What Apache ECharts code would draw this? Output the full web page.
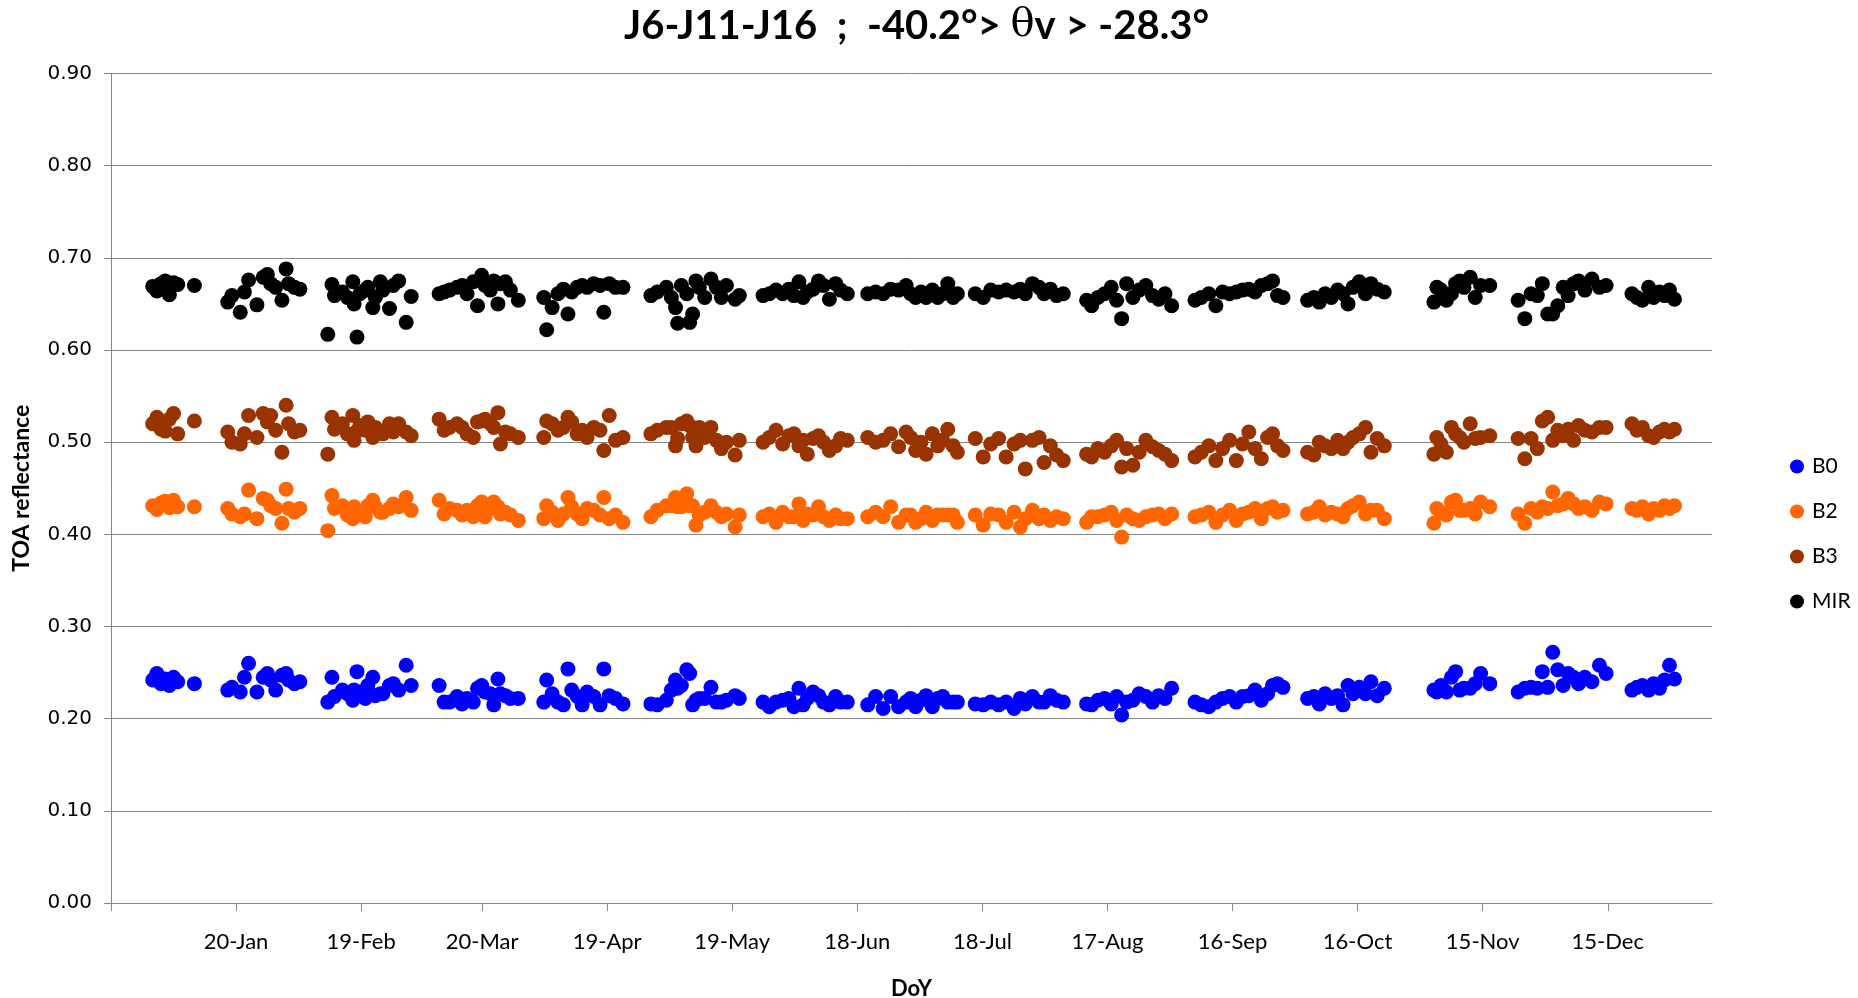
<!DOCTYPE html>
<html>
<head>
<meta charset="utf-8">
<title>TOA reflectance – J6-J11-J16</title>
<script src="https://cdn.jsdelivr.net/npm/echarts@6/dist/echarts.min.js"></script>
<style>
  html, body { margin: 0; padding: 0; background: #ffffff; }
  #chart { width: 1858px; height: 998px; }
</style>
</head>
<body>
<div id="chart"></div>
<script>
// Day of year of each acquisition (one line per overpass window)
const doy = [
  0, 1, 2, 3, 4, 5, 6, 10,
  18, 19, 21, 22, 23, 25, 26.5, 27.5, 28.3, 29.5, 31, 32, 32.6, 34, 35.3,
  42, 43, 43.6, 45.5, 46.7, 48, 48.3, 49, 49.7, 51, 51.6, 52.8, 53.4, 54.6, 55.2, 56.8, 57.7, 59, 60.8, 62,
  68.7, 69.9, 71.2, 73, 74.2, 75.4, 76.9, 77.9, 78.9, 79.7, 81, 81.8, 82.8, 83.4, 84.6, 85.8, 87.7,
  93.8, 94.5, 95.8, 97.2, 98.5, 99.6, 100.5, 101.8, 103, 104.2, 105.8, 107.3, 108.2, 109.5, 111, 112.8,
  119.5, 121, 123.2, 124.4, 125.4, 125.9, 126.8, 128.1, 128.8, 129.5, 130.3, 131.1, 132.4, 133.9, 135.2, 136.4, 137.6, 139.7, 140.7,
  146.4, 147.9, 149.5, 151.1, 152.6, 153.8, 155, 156, 157, 158.4, 159.7, 160.9, 162.3, 163.8, 165, 166.6,
  171.5, 173.4, 175.2, 177, 178.9, 180.7, 181.8, 183, 184.3, 185.5, 187, 188.3, 189.5, 190.7, 192, 193,
  197.3, 199.2, 201, 202.9, 204.7, 206.6, 208.1, 209.3, 211, 212.6, 213.8, 215.3, 216.8, 218.4,
  224, 225.2, 226.7, 228.3, 229.9, 231.2, 232.4, 233.6, 235.1, 236.6, 238.2, 239.8, 241.3, 242.8, 244.4,
  250, 251.5, 253.3, 255, 256.6, 258.3, 259.9, 261.4, 262.9, 264.4, 265.9, 267.4, 268.6, 269.8, 271.1,
  277, 278.5, 279.8, 281.2, 282.7, 284.2, 285.5, 286.7, 287.9, 289.4, 290.9, 292.2, 293.7, 295.4,
  307.3, 308, 309, 310.3, 311.5, 312.5, 313.5, 314.5, 316, 317.2, 318.5, 320.7,
  327.5, 329.1, 330.6, 332.1, 333.3, 334.6, 335.8, 337, 338.3, 339.5, 340.8, 342, 343.5, 345.2, 347, 348.6,
  354.8, 356, 357.3, 358.8, 360, 361.4, 362.6, 363.8, 365
];

// Band B0 TOA reflectance
const b0 = [
  0.242, 0.249, 0.238, 0.243, 0.236, 0.245, 0.240, 0.238,
  0.231, 0.234, 0.229, 0.245, 0.260, 0.229, 0.245, 0.249, 0.242, 0.231, 0.247, 0.249, 0.242, 0.238, 0.240,
  0.218, 0.245, 0.224, 0.231, 0.227, 0.220, 0.231, 0.251, 0.229, 0.222, 0.236, 0.245, 0.225, 0.227, 0.227, 0.236, 0.238, 0.231, 0.258, 0.236,
  0.236, 0.218, 0.218, 0.224, 0.216, 0.222, 0.218, 0.233, 0.236, 0.229, 0.227, 0.215, 0.243, 0.227, 0.225, 0.222, 0.222,
  0.218, 0.242, 0.227, 0.218, 0.215, 0.254, 0.231, 0.224, 0.215, 0.229, 0.224, 0.215, 0.254, 0.225, 0.222, 0.216,
  0.216, 0.215, 0.220, 0.231, 0.242, 0.233, 0.236, 0.253, 0.249, 0.215, 0.220, 0.222, 0.222, 0.234, 0.218, 0.218, 0.220, 0.225, 0.222,
  0.218, 0.213, 0.218, 0.220, 0.222, 0.213, 0.233, 0.215, 0.222, 0.229, 0.225, 0.218, 0.215, 0.224, 0.218, 0.218,
  0.215, 0.224, 0.211, 0.224, 0.213, 0.218, 0.222, 0.213, 0.220, 0.225, 0.213, 0.222, 0.224, 0.218, 0.218, 0.218,
  0.216, 0.215, 0.218, 0.215, 0.218, 0.211, 0.222, 0.216, 0.224, 0.218, 0.218, 0.225, 0.220, 0.218,
  0.216, 0.215, 0.220, 0.222, 0.216, 0.224, 0.204, 0.218, 0.220, 0.227, 0.224, 0.218, 0.225, 0.222, 0.233,
  0.218, 0.215, 0.213, 0.218, 0.222, 0.224, 0.218, 0.224, 0.225, 0.231, 0.220, 0.227, 0.236, 0.238, 0.234,
  0.222, 0.224, 0.216, 0.227, 0.222, 0.225, 0.215, 0.236, 0.227, 0.234, 0.227, 0.240, 0.225, 0.233,
  0.231, 0.229, 0.236, 0.229, 0.245, 0.251, 0.231, 0.233, 0.233, 0.238, 0.249, 0.238,
  0.229, 0.233, 0.234, 0.233, 0.251, 0.234, 0.272, 0.253, 0.236, 0.249, 0.245, 0.238, 0.245, 0.240, 0.258, 0.249,
  0.231, 0.234, 0.236, 0.231, 0.238, 0.233, 0.242, 0.258, 0.243
];

// Band B2 TOA reflectance
const b2 = [
  0.431, 0.427, 0.434, 0.436, 0.429, 0.437, 0.430, 0.430,
  0.428, 0.422, 0.419, 0.422, 0.448, 0.417, 0.439, 0.437, 0.431, 0.428, 0.412, 0.449, 0.428, 0.424, 0.428,
  0.404, 0.442, 0.428, 0.431, 0.421, 0.417, 0.430, 0.425, 0.421, 0.419, 0.431, 0.437, 0.430, 0.424, 0.424, 0.428, 0.433, 0.430, 0.440, 0.426,
  0.437, 0.422, 0.428, 0.426, 0.421, 0.426, 0.419, 0.431, 0.435, 0.419, 0.428, 0.435, 0.430, 0.422, 0.424, 0.421, 0.415,
  0.417, 0.431, 0.424, 0.415, 0.422, 0.440, 0.430, 0.422, 0.417, 0.428, 0.426, 0.421, 0.440, 0.417, 0.421, 0.413,
  0.419, 0.426, 0.431, 0.431, 0.440, 0.430, 0.430, 0.444, 0.431, 0.431, 0.410, 0.421, 0.424, 0.431, 0.424, 0.419, 0.422, 0.408, 0.421,
  0.419, 0.422, 0.413, 0.424, 0.419, 0.419, 0.433, 0.415, 0.422, 0.421, 0.430, 0.419, 0.415, 0.421, 0.417, 0.417,
  0.419, 0.424, 0.419, 0.430, 0.413, 0.421, 0.421, 0.413, 0.417, 0.424, 0.415, 0.421, 0.421, 0.421, 0.421, 0.413,
  0.421, 0.410, 0.422, 0.421, 0.413, 0.424, 0.408, 0.417, 0.426, 0.417, 0.421, 0.415, 0.419, 0.417,
  0.413, 0.419, 0.419, 0.421, 0.424, 0.415, 0.397, 0.421, 0.417, 0.415, 0.419, 0.421, 0.422, 0.417, 0.422,
  0.419, 0.421, 0.424, 0.413, 0.421, 0.426, 0.415, 0.422, 0.424, 0.428, 0.417, 0.428, 0.430, 0.424, 0.426,
  0.422, 0.424, 0.430, 0.421, 0.424, 0.422, 0.419, 0.428, 0.431, 0.435, 0.422, 0.426, 0.426, 0.417,
  0.412, 0.428, 0.424, 0.421, 0.435, 0.437, 0.426, 0.426, 0.428, 0.422, 0.435, 0.430,
  0.422, 0.412, 0.428, 0.424, 0.430, 0.428, 0.446, 0.431, 0.433, 0.439, 0.433, 0.428, 0.430, 0.426, 0.435, 0.433,
  0.428, 0.426, 0.430, 0.422, 0.428, 0.426, 0.431, 0.428, 0.431
];

// Band B3 TOA reflectance
const b3 = [
  0.520, 0.527, 0.514, 0.512, 0.525, 0.531, 0.509, 0.523,
  0.511, 0.500, 0.498, 0.509, 0.529, 0.505, 0.531, 0.522, 0.529, 0.513, 0.489, 0.540, 0.520, 0.511, 0.513,
  0.487, 0.527, 0.514, 0.520, 0.509, 0.529, 0.502, 0.512, 0.518, 0.513, 0.522, 0.505, 0.516, 0.511, 0.509, 0.520, 0.511, 0.520, 0.511, 0.507,
  0.525, 0.513, 0.516, 0.520, 0.516, 0.509, 0.505, 0.522, 0.523, 0.525, 0.520, 0.516, 0.532, 0.498, 0.511, 0.509, 0.505,
  0.505, 0.523, 0.520, 0.513, 0.516, 0.527, 0.522, 0.509, 0.513, 0.505, 0.516, 0.513, 0.491, 0.529, 0.502, 0.505,
  0.509, 0.513, 0.516, 0.516, 0.496, 0.504, 0.520, 0.523, 0.518, 0.505, 0.496, 0.516, 0.505, 0.516, 0.502, 0.493, 0.500, 0.486, 0.502,
  0.500, 0.505, 0.513, 0.498, 0.507, 0.509, 0.496, 0.502, 0.487, 0.504, 0.507, 0.500, 0.491, 0.496, 0.504, 0.502,
  0.505, 0.500, 0.502, 0.509, 0.495, 0.511, 0.505, 0.491, 0.500, 0.487, 0.509, 0.496, 0.502, 0.514, 0.496, 0.489,
  0.504, 0.484, 0.498, 0.504, 0.484, 0.498, 0.502, 0.471, 0.502, 0.505, 0.478, 0.496, 0.486, 0.480,
  0.487, 0.484, 0.493, 0.489, 0.496, 0.502, 0.473, 0.493, 0.475, 0.489, 0.502, 0.495, 0.491, 0.487, 0.480,
  0.484, 0.489, 0.496, 0.480, 0.493, 0.502, 0.480, 0.498, 0.511, 0.493, 0.482, 0.505, 0.509, 0.496, 0.491,
  0.489, 0.486, 0.500, 0.496, 0.493, 0.502, 0.493, 0.500, 0.505, 0.509, 0.516, 0.489, 0.504, 0.496,
  0.487, 0.505, 0.498, 0.489, 0.516, 0.509, 0.505, 0.500, 0.520, 0.504, 0.505, 0.507,
  0.504, 0.482, 0.504, 0.493, 0.523, 0.527, 0.502, 0.513, 0.507, 0.514, 0.502, 0.518, 0.513, 0.511, 0.516, 0.516,
  0.520, 0.513, 0.516, 0.507, 0.505, 0.511, 0.514, 0.511, 0.514
];

// MIR TOA reflectance
const mir = [
  0.669, 0.664, 0.672, 0.675, 0.660, 0.673, 0.671, 0.670,
  0.652, 0.659, 0.641, 0.663, 0.676, 0.649, 0.679, 0.682, 0.672, 0.668, 0.654, 0.688, 0.672, 0.668, 0.666,
  0.617, 0.671, 0.659, 0.663, 0.657, 0.674, 0.650, 0.614, 0.661, 0.665, 0.668, 0.646, 0.657, 0.674, 0.665, 0.645, 0.670, 0.675, 0.630, 0.658,
  0.661, 0.663, 0.665, 0.668, 0.670, 0.661, 0.674, 0.648, 0.681, 0.670, 0.665, 0.675, 0.650, 0.672, 0.674, 0.665, 0.654,
  0.657, 0.622, 0.646, 0.661, 0.666, 0.639, 0.663, 0.668, 0.670, 0.668, 0.672, 0.670, 0.641, 0.672, 0.668, 0.668,
  0.659, 0.663, 0.668, 0.657, 0.646, 0.629, 0.670, 0.661, 0.630, 0.639, 0.675, 0.668, 0.657, 0.677, 0.668, 0.657, 0.670, 0.655, 0.659,
  0.659, 0.661, 0.665, 0.661, 0.666, 0.659, 0.674, 0.657, 0.663, 0.666, 0.675, 0.670, 0.655, 0.672, 0.665, 0.661,
  0.661, 0.663, 0.661, 0.666, 0.665, 0.670, 0.661, 0.657, 0.663, 0.657, 0.665, 0.657, 0.661, 0.672, 0.657, 0.661,
  0.661, 0.657, 0.665, 0.663, 0.665, 0.663, 0.666, 0.661, 0.672, 0.668, 0.661, 0.666, 0.659, 0.661,
  0.654, 0.648, 0.657, 0.661, 0.668, 0.654, 0.634, 0.672, 0.657, 0.665, 0.670, 0.659, 0.655, 0.661, 0.648,
  0.654, 0.657, 0.661, 0.648, 0.663, 0.661, 0.663, 0.665, 0.666, 0.663, 0.670, 0.672, 0.675, 0.659, 0.657,
  0.654, 0.657, 0.652, 0.661, 0.657, 0.665, 0.661, 0.650, 0.668, 0.674, 0.661, 0.672, 0.666, 0.663,
  0.652, 0.668, 0.665, 0.654, 0.661, 0.672, 0.675, 0.668, 0.679, 0.657, 0.670, 0.670,
  0.654, 0.634, 0.661, 0.659, 0.672, 0.639, 0.639, 0.648, 0.668, 0.659, 0.672, 0.675, 0.665, 0.677, 0.668, 0.670,
  0.661, 0.657, 0.654, 0.668, 0.657, 0.663, 0.659, 0.665, 0.655
];

// Date axis: labelled ticks every 30 days, plus the unlabelled tick at the axis start
const dateTickDays = [20, 50, 79, 109, 139, 169, 199, 229, 259, 289, 319, 349];
const dateTickLabels = ['20-Jan', '19-Feb', '20-Mar', '19-Apr', '19-May', '18-Jun',
                        '18-Jul', '17-Aug', '16-Sep', '16-Oct', '15-Nov', '15-Dec'];
const axisStartDay = -10;
const axisEndDay = 374;

const bandNames = ['B0', 'B2', 'B3', 'MIR'];
const bandColors = ['#0000FF', '#FF6600', '#993300', '#000000'];
const bandValues = [b0, b2, b3, mir];

const gridGray = '#868686';
const uiFont = 'Lato, "Open Sans", sans-serif';

const chart = echarts.init(document.getElementById('chart'), null, { renderer: 'canvas' });

const series = bandNames.map((name, k) => ({
  name: name,
  type: 'scatter',
  symbol: 'circle',
  symbolSize: 15,
  itemStyle: { color: bandColors[k], opacity: 1 },
  emphasis: { disabled: true },
  data: doy.map((d, i) => [d, bandValues[k][i]])
}));

chart.setOption({
  animation: false,
  backgroundColor: '#ffffff',
  textStyle: { fontFamily: uiFont, color: '#000' },
  title: {
    text: '{a|J6-J11-J16  ;  -40.2°> }{t|θ}{a|v > -28.3°}',
    left: 624,
    top: 6,
    padding: 0,
    textStyle: {
      rich: {
        a: { fontFamily: uiFont, fontWeight: 'bold', fontSize: 40, color: '#000' },
        t: { fontFamily: '"DejaVu Serif", serif', fontWeight: 'normal', fontSize: 40, color: '#000' }
      }
    }
  },
  legend: {
    orient: 'vertical',
    left: 1790,
    top: 456,
    padding: 0,
    itemGap: 24,
    itemWidth: 14,
    itemHeight: 14,
    icon: 'circle',
    selectedMode: false,
    textStyle: { fontFamily: uiFont, fontSize: 21, lineHeight: 21, color: '#000', padding: [0, 0, 0, 3] },
    data: bandNames
  },
  grid: {
    left: 111,
    right: 146,
    top: 73.5,
    bottom: 95,
    outerBoundsMode: 'none'
  },
  xAxis: {
    type: 'value',
    min: axisStartDay,
    max: axisEndDay,
    name: 'DoY',
    nameLocation: 'middle',
    nameGap: 75,
    nameTextStyle: { fontFamily: uiFont, fontWeight: 'bold', fontSize: 22, color: '#000' },
    axisLine: { show: true, lineStyle: { color: gridGray, width: 1 } },
    axisTick: {
      show: true,
      customValues: [axisStartDay].concat(dateTickDays),
      length: 8,
      lineStyle: { color: gridGray, width: 1 }
    },
    axisLabel: {
      customValues: dateTickDays,
      formatter: v => dateTickLabels[dateTickDays.indexOf(v)],
      margin: 28,
      fontFamily: uiFont,
      fontSize: 22,
      color: '#000'
    },
    splitLine: { show: false }
  },
  yAxis: {
    type: 'value',
    min: 0,
    max: 0.9,
    interval: 0.1,
    name: 'TOA reflectance',
    nameLocation: 'middle',
    nameRotate: 90,
    nameGap: 78,
    nameTextStyle: { fontFamily: uiFont, fontWeight: 'bold', fontSize: 23, color: '#000' },
    axisLine: { show: true, onZero: false, lineStyle: { color: gridGray, width: 1 } },
    axisTick: { show: true, length: 7, lineStyle: { color: gridGray, width: 1 } },
    axisLabel: {
      formatter: v => v.toFixed(2),
      margin: 19,
      fontFamily: '"DejaVu Sans", sans-serif',
      fontSize: 20,
      color: '#000'
    },
    splitLine: { show: true, lineStyle: { color: gridGray, width: 1 } }
  },
  series: series
});
</script>
</body>
</html>
